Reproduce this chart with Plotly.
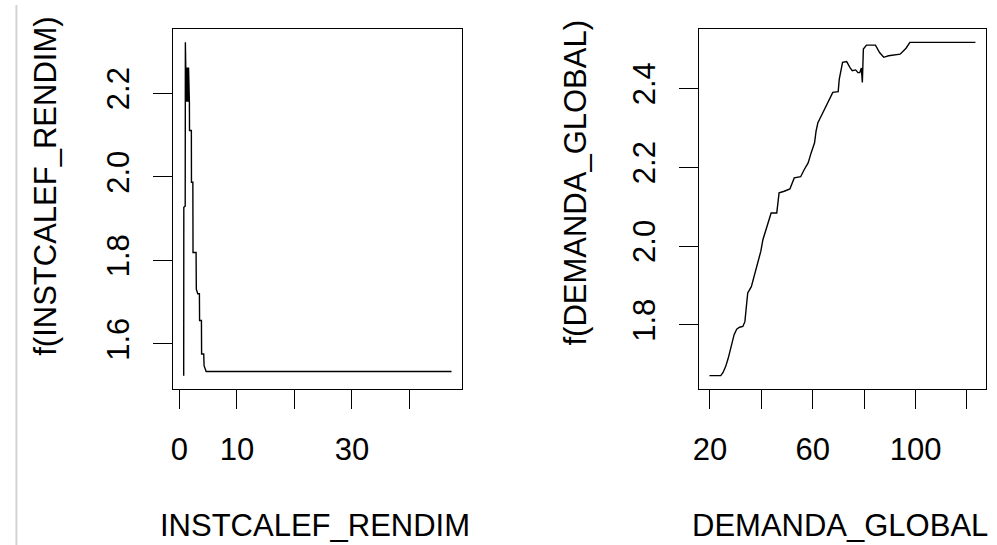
import plotly.graph_objects as go

# Partial dependence of the fitted model on INSTCALEF_RENDIM
inst_x = [0.76, 0.78, 1.02, 1.05, 1.12, 1.20, 1.28, 1.36, 1.44, 1.52, 1.60, 1.75, 1.77,
          2.09, 2.11, 2.35, 2.38, 2.91, 2.95, 3.20, 3.49, 3.52, 3.84, 3.87, 4.24, 4.30,
          4.66, 47.3]
inst_f = [1.524, 1.927, 1.930, 2.322, 2.262, 2.180, 2.262, 2.180, 2.262, 2.180, 2.262,
          2.178, 2.111, 2.111, 1.987, 1.987, 1.819, 1.819, 1.731, 1.720, 1.720, 1.656,
          1.656, 1.576, 1.576, 1.548, 1.534, 1.534]

# Partial dependence of the fitted model on DEMANDA_GLOBAL
dem_x = [19.8, 24.2, 25.1, 26.1, 27.1, 27.7, 28.4, 29.4, 30.4, 31.5, 32.8, 33.6, 34.1,
         34.7, 36.1, 37.0, 37.9, 39.0, 39.8, 40.6, 41.8, 43.0, 43.8, 46.0, 46.9, 48.9,
         51.1, 52.8, 55.3, 56.6, 58.2, 59.4, 60.7, 61.3, 62.0, 63.3, 64.5, 65.8, 66.4,
         67.8, 69.9, 70.3, 71.6, 73.2, 74.5, 75.4, 76.7, 77.6, 78.3, 78.9, 79.3, 79.7,
         80.9, 84.4, 86.0, 87.6, 89.5, 94.0, 96.3, 97.8, 123.3]
dem_f = [1.671, 1.671, 1.679, 1.694, 1.715, 1.730, 1.753, 1.775, 1.789, 1.794, 1.796,
         1.808, 1.842, 1.881, 1.897, 1.919, 1.944, 1.965, 1.987, 2.016, 2.042, 2.071,
         2.084, 2.084, 2.135, 2.139, 2.145, 2.173, 2.176, 2.193, 2.211, 2.237, 2.262,
         2.292, 2.313, 2.330, 2.347, 2.364, 2.373, 2.390, 2.392, 2.423, 2.466, 2.468,
         2.453, 2.445, 2.447, 2.440, 2.440, 2.452, 2.415, 2.500, 2.510, 2.510, 2.491,
         2.479, 2.483, 2.487, 2.502, 2.517, 2.517]

inst_xticks = [0, 10, 20, 30, 40]
inst_xlabels = ["0", "10", "", "30", ""]
inst_yticks = [1.6, 1.8, 2.0, 2.2]
inst_ylabels = ["1.6", "1.8", "2.0", "2.2"]

dem_xticks = [20, 40, 60, 80, 100, 120]
dem_xlabels = ["20", "", "60", "", "100", ""]
dem_yticks = [1.8, 2.0, 2.2, 2.4]
dem_ylabels = ["1.8", "2.0", "2.2", "2.4"]

x_titles = ["INSTCALEF_RENDIM", "DEMANDA_GLOBAL"]
y_titles = ["f(INSTCALEF_RENDIM)", "f(DEMANDA_GLOBAL)"]

W, H = 997, 545
FONT = "Liberation Sans, Arial, sans-serif"
FS = 31


def px_x(p):
    return p / W


def px_y(p):
    return 1 - p / H


def padded(vals, frac=0.04):
    lo, hi = min(vals), max(vals)
    d = (hi - lo) * frac
    return [lo - d, hi + d]


fig = go.Figure()
fig.add_trace(go.Scatter(x=inst_x, y=inst_f, mode="lines",
                         line=dict(color="black", width=1.4),
                         xaxis="x", yaxis="y", showlegend=False))
fig.add_trace(go.Scatter(x=dem_x, y=dem_f, mode="lines",
                         line=dict(color="black", width=1.4),
                         xaxis="x2", yaxis="y2", showlegend=False))

axis_common = dict(showline=True, mirror=True, linecolor="black", linewidth=1.4,
                   ticks="outside", ticklen=19, tickwidth=1.4, tickcolor="black",
                   showgrid=False, zeroline=False,
                   tickfont=dict(family=FONT, size=FS, color="black"))

box_top, box_bottom = 29, 389
ydom = [px_y(box_bottom), px_y(box_top)]

fig.update_layout(
    width=W, height=H,
    margin=dict(l=0, r=0, t=0, b=0),
    paper_bgcolor="white", plot_bgcolor="white",
    xaxis=dict(domain=[px_x(168), px_x(459)], range=padded(inst_x),
               tickvals=inst_xticks, ticktext=inst_xlabels, anchor="y",
               ticklabelstandoff=14, **axis_common),
    yaxis=dict(domain=ydom, range=padded(inst_f),
               tickvals=inst_yticks, ticktext=inst_ylabels, anchor="x",
               tickangle=-90, ticklabelstandoff=11, **axis_common),
    xaxis2=dict(domain=[px_x(697), px_x(986)], range=padded(dem_x),
                tickvals=dem_xticks, ticktext=dem_xlabels, anchor="y2",
                ticklabelstandoff=14, **axis_common),
    yaxis2=dict(domain=ydom, range=padded(dem_f),
                tickvals=dem_yticks, ticktext=dem_ylabels, anchor="x2",
                tickangle=-90, ticklabelstandoff=11, **axis_common),
)

title_font = dict(family=FONT, size=FS, color="black")
for text, cx in zip(x_titles, [311, 839]):
    fig.add_annotation(text=text, x=px_x(cx), y=px_y(525), xref="paper", yref="paper",
                       showarrow=False, xanchor="center", yanchor="middle", font=title_font)
for text, cx, cy in zip(y_titles, [39, 572], [186, 183]):
    fig.add_annotation(text=text, x=px_x(cx), y=px_y(cy), xref="paper", yref="paper",
                       showarrow=False, xanchor="center", yanchor="middle",
                       textangle=-90, font=title_font)

# thin pane divider on the left edge
fig.add_shape(type="line", xref="paper", yref="paper",
              x0=px_x(10.5), x1=px_x(10.5), y0=0, y1=px_y(5),
              line=dict(color="#d4d4d4", width=2))

fig.write_html("out.html")
